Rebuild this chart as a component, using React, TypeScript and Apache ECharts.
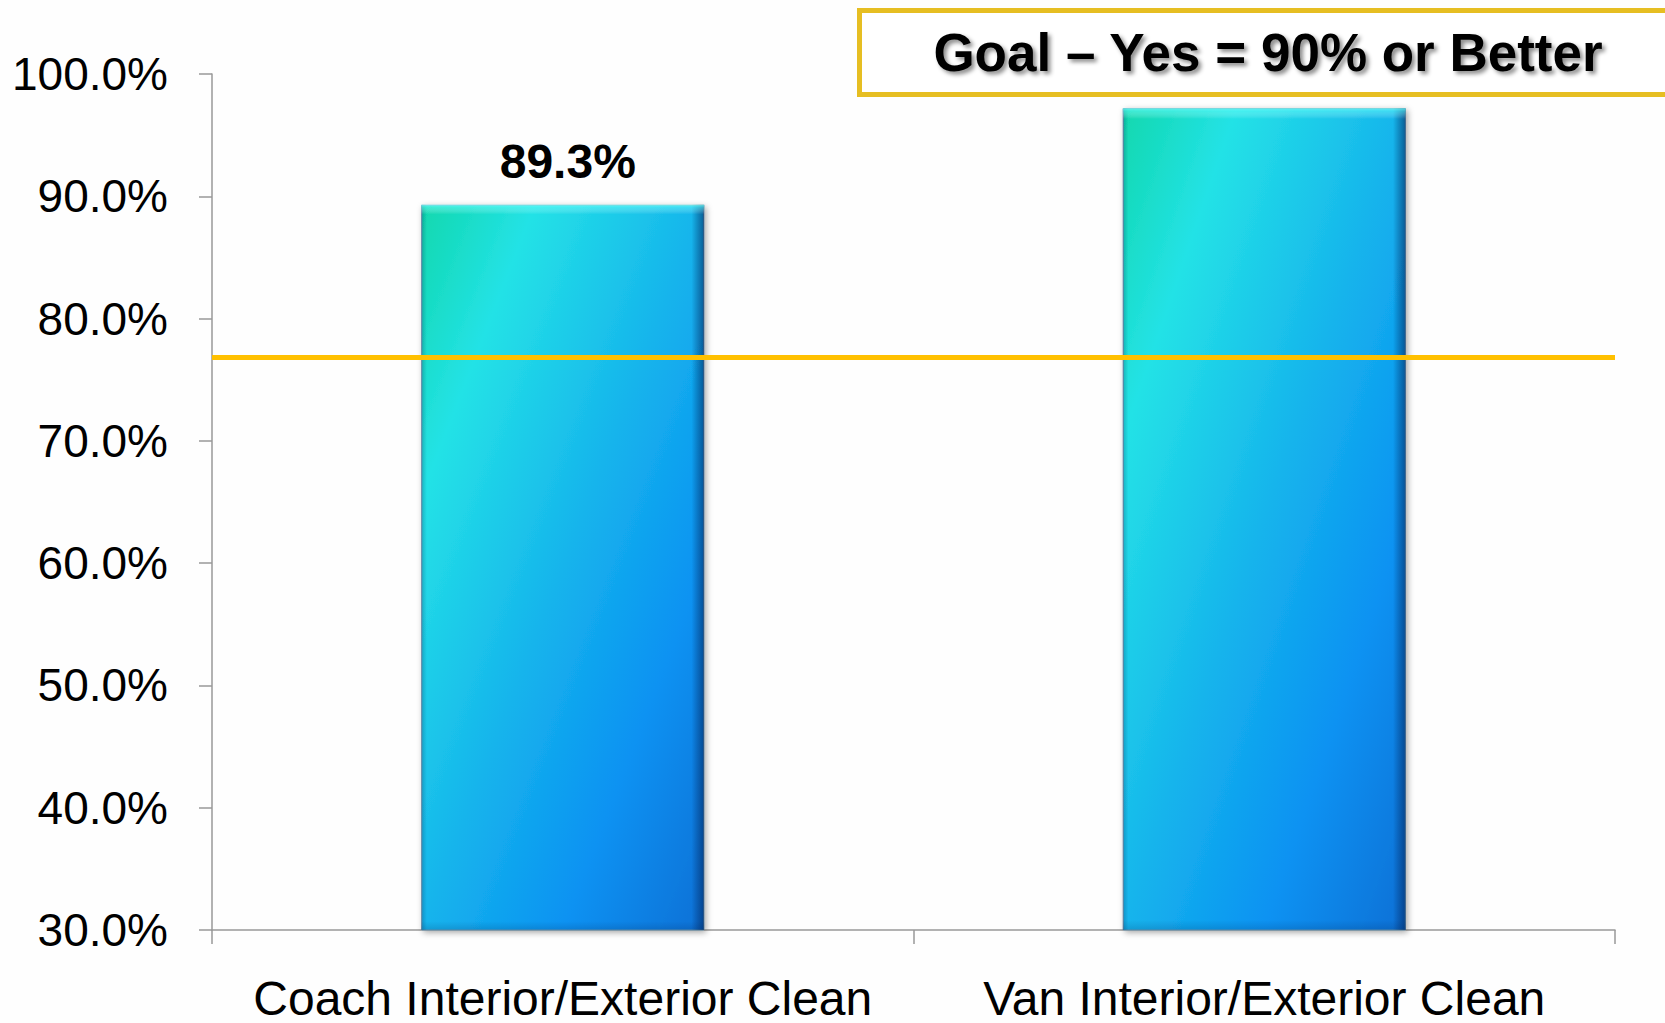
import React, { useEffect, useRef } from "react";
import * as echarts from "echarts";

const categories = ["Coach Interior/Exterior Clean", "Van Interior/Exterior Clean"];
const values = [89.3, 97.2];
const valueLabels = ["89.3%", ""];
const goalLineValue = 76.8;
const yMin = 30;
const yMax = 100;
const yInterval = 10;
const goalText = "Goal – Yes = 90% or Better";

const FONT = "'Liberation Sans', Arial, Helvetica, sans-serif";

export default function App() {
  const ref = useRef<HTMLDivElement>(null);

  useEffect(() => {
    if (!ref.current) return;
    const chart = echarts.init(ref.current, null, { renderer: "svg" });

    const mainGradient = new echarts.graphic.LinearGradient(0, 0, 1, 1, [
      { offset: 0, color: "#10D8AE" },
      { offset: 0.2, color: "#24E2E6" },
      { offset: 0.5, color: "#16B4EC" },
      { offset: 0.75, color: "#0A92F2" },
      { offset: 1, color: "#0870D6" },
    ]);
    const edgeGradient = new echarts.graphic.LinearGradient(0, 0, 1, 0, [
      { offset: 0, color: "rgba(0,30,80,0.25)" },
      { offset: 0.02, color: "rgba(0,30,80,0)" },
      { offset: 0.955, color: "rgba(0,30,80,0)" },
      { offset: 1, color: "rgba(0,35,90,0.6)" },
    ]);
    const topGradient = new echarts.graphic.LinearGradient(0, 0, 0, 1, [
      { offset: 0, color: "rgba(110,255,250,0.75)" },
      { offset: 0.004, color: "rgba(110,255,250,0.45)" },
      { offset: 0.013, color: "rgba(255,255,255,0)" },
      { offset: 0.988, color: "rgba(0,40,90,0)" },
      { offset: 1, color: "rgba(0,40,90,0.18)" },
    ]);

    chart.setOption({
      animation: false,
      backgroundColor: "#FEFEFE",
      textStyle: { fontFamily: FONT },
      grid: { left: 212, right: 50, top: 74, bottom: 93, containLabel: false },
      xAxis: {
        type: "category",
        data: categories,
        axisLine: { show: true, lineStyle: { color: "#999999", width: 1.5 } },
        axisTick: { show: true, length: 14, alignWithLabel: false, lineStyle: { color: "#999999", width: 1.5 } },
        axisLabel: { color: "#000000", fontSize: 48, fontFamily: FONT, margin: 44, interval: 0 },
        splitLine: { show: false },
      },
      yAxis: {
        type: "value",
        min: yMin,
        max: yMax,
        interval: yInterval,
        axisLine: { show: true, lineStyle: { color: "#999999", width: 1.5 } },
        axisTick: { show: true, length: 13, lineStyle: { color: "#999999", width: 1.5 } },
        axisLabel: {
          color: "#000000",
          fontSize: 46,
          fontFamily: FONT,
          margin: 44,
          formatter: (v: number) => v.toFixed(1) + "%",
        },
        splitLine: { show: false },
      },
      series: [
        {
          type: "bar",
          data: values,
          barWidth: 283,
          itemStyle: {
            color: mainGradient,
            borderColor: "#6F9AB5",
            borderWidth: 1,
            shadowColor: "rgba(0,0,0,0.35)",
            shadowBlur: 6,
            shadowOffsetX: 2,
            shadowOffsetY: 2,
          },
          label: {
            show: true,
            position: "top",
            distance: 19,
            offset: [5, 0],
            fontSize: 48,
            fontWeight: "bold",
            color: "#000000",
            fontFamily: FONT,
            formatter: (p: any) => valueLabels[p.dataIndex],
          },
          silent: true,
        },
        {
          type: "bar",
          data: values,
          barWidth: 283,
          barGap: "-100%",
          itemStyle: { color: edgeGradient },
          silent: true,
        },
        {
          type: "bar",
          data: values,
          barWidth: 283,
          barGap: "-100%",
          itemStyle: { color: topGradient },
          silent: true,
          markLine: {
            silent: true,
            symbol: ["none", "none"],
            z: 10,
            label: { show: false },
            lineStyle: { color: "#FFC000", width: 5, type: "solid" },
            data: [{ yAxis: goalLineValue }],
          },
        },
      ],
      graphic: [
        {
          type: "rect",
          left: 857,
          top: 8,
          shape: { width: 900, height: 84 },
          style: { fill: "#FFFFFF", stroke: "#E6BE22", lineWidth: 5 },
          z: 20,
        },
        {
          type: "text",
          x: 1268,
          y: 52,
          z: 21,
          style: {
            text: goalText,
            fill: "#000000",
            font: `bold 53px ${FONT}`,
            align: "center",
            verticalAlign: "middle",
            textShadowColor: "rgba(0,0,0,0.45)",
            textShadowBlur: 4,
            textShadowOffsetX: 3,
            textShadowOffsetY: 3,
          },
        },
      ],
    });

    return () => chart.dispose();
  }, []);

  return (
    <div
      ref={ref}
      style={{ position: "fixed", left: 0, top: 0, width: 1665, height: 1023 }}
    />
  );
}
